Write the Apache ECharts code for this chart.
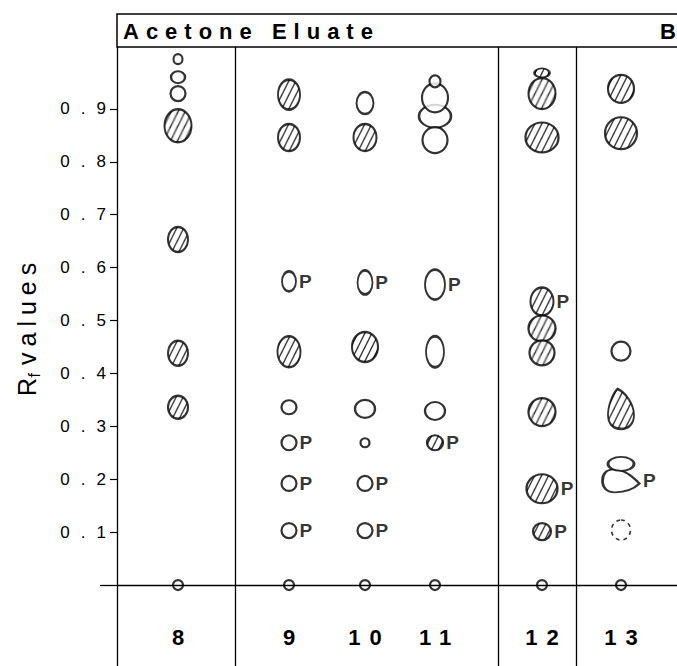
<!DOCTYPE html>
<html><head><meta charset="utf-8">
<script src="https://cdn.jsdelivr.net/npm/echarts@6/dist/echarts.min.js"></script>
<style>html,body{margin:0;padding:0;background:#fff}#chart{width:677px;height:666px}</style>
</head><body><div id="chart"></div>
<script>
// ================= DATA =================
const lanes = ['8', '9', '10', '11', '12', '13'];
const yTicks = [0.1, 0.2, 0.3, 0.4, 0.5, 0.6, 0.7, 0.8, 0.9];
const headerText = 'Acetone Eluate';
const panelLetter = 'B';

// Rf values of the spots per lane; kind: o = open, h = hatched, d = dashed, suffix P = labelled "P"
const lane8Rf   = [0.994, 0.960, 0.929, 0.868, 0.653, 0.438, 0.336, 0];
const lane8Kind = ['o', 'o', 'o', 'h', 'h', 'h', 'h', 'o'];
const lane9Rf   = [0.927, 0.846, 0.574, 0.441, 0.336, 0.269, 0.192, 0.103, 0];
const lane9Kind = ['h', 'h', 'oP', 'h', 'o', 'oP', 'oP', 'oP', 'o'];
const lane10Rf   = [0.911, 0.846, 0.572, 0.450, 0.333, 0.269, 0.192, 0.103, 0];
const lane10Kind = ['o', 'h', 'oP', 'h', 'o', 'o', 'oP', 'oP', 'o'];
const lane11Rf   = [0.886, 0.921, 0.952, 0.841, 0.568, 0.441, 0.329, 0.269, 0];
const lane11Kind = ['o', 'o', 'o', 'o', 'oP', 'o', 'o', 'hP', 'o'];
const lane12Rf   = [0.929, 0.968, 0.846, 0.536, 0.485, 0.439, 0.327, 0.182, 0.101, 0];
const lane12Kind = ['h', 'h', 'h', 'hP', 'h', 'h', 'h', 'hP', 'hP', 'o'];
const lane13Rf   = [0.938, 0.854, 0.442, 0.333, 0.197, 0.229, 0.104, 0];
const lane13Kind = ['h', 'h', 'o', 'h', 'oP', 'o', 'd', 'o'];

// ================= LAYOUT / STYLE =================
const laneX = [61, 172, 248, 318, 425, 504];       // lane centre on the x scale
const dividerX = [118, 381, 459];                  // separators between lane groups
const lane8Size  = [[9,10],[14,12],[15,15],[27,33],[20,25],[20,25],[20,23],[10,10]];
const lane9Size  = [[22,30],[22,27],[14,20],[23,31],[15,14],[15,15],[15,15],[15,15],[10,10]];
const lane10Size = [[17,22],[23,27],[15,24],[26,30],[20,18],[9,9],[15,15],[15,15],[10,10]];
const lane11Size = [[32,23],[26,29],[11,12],[25,26],[20,30],[18,31],[20,18],[16,15],[10,10]];
const lane12Size = [[27,31],[15,9],[33,30],[23,28],[27,26],[25,25],[27,28],[31,29],[18,17],[10,10]];
const lane13Size = [[26,28],[32,32],[19,19],[26,40],[37,23],[26,14],[19,20],[10,10]];
const lane13Shape = ['e','e','e','drop','dropRight','e','e','e'];

const SHAPES = {
  e: 'path://M50,0C77.6,0,100,22.4,100,50C100,77.6,77.6,100,50,100C22.4,100,0,77.6,0,50C0,22.4,22.4,0,50,0Z',
  drop: 'path://M38,0C20,12,2,45,4,68C6,90,26,100,50,100C76,100,98,88,97,64C96,36,64,8,38,0Z',
  dropRight: 'path://M30,0C58,0,80,30,100,62C82,90,60,100,34,100C12,100,0,80,0,50C0,20,10,0,30,0Z'
};
const FONT = '"Liberation Sans", Arial, Helvetica, sans-serif';
const INK = '#000';

// hatch tile: "/" lines, 2x + y = const, period 14 -> ~6.3px apart
const HATCH_W = 7, HATCH_H = 14;
const hatchURL = (function () {
  const c = document.createElement('canvas');
  c.width = HATCH_W; c.height = HATCH_H;
  const ctx = c.getContext('2d');
  ctx.fillStyle = '#fff'; ctx.fillRect(0, 0, HATCH_W, HATCH_H);
  ctx.strokeStyle = '#000'; ctx.lineWidth = 1.4;
  for (let k = -1; k <= 3; k++) {
    ctx.beginPath();
    ctx.moveTo(-HATCH_W, k * 14 + 2 * HATCH_W);
    ctx.lineTo(2 * HATCH_W, k * 14 - 4 * HATCH_W);
    ctx.stroke();
  }
  return c.toDataURL();
})();
// symbols are drawn as a 2x2 unit shape scaled by size/2, so undo that scale on the pattern
function hatchFor(size) {
  return { image: hatchURL, repeat: 'repeat', imageWidth: HATCH_W, imageHeight: HATCH_H,
           scaleX: 2 / size[0], scaleY: 2 / size[1] };
}

const laneRf = [lane8Rf, lane9Rf, lane10Rf, lane11Rf, lane12Rf, lane13Rf];
const laneKind = [lane8Kind, lane9Kind, lane10Kind, lane11Kind, lane12Kind, lane13Kind];
const laneSize = [lane8Size, lane9Size, lane10Size, lane11Size, lane12Size, lane13Size];
const laneShape = [null, null, null, null, null, lane13Shape];

const groups = { o: [], h: [], d: [] };
laneRf.forEach((rfs, li) => {
  rfs.forEach((rf, i) => {
    const kind = laneKind[li][i];
    const shape = laneShape[li] ? laneShape[li][i] : 'e';
    const size = laneSize[li][i];
    const item = { value: [laneX[li], rf], symbol: SHAPES[shape], symbolSize: size };
    if (kind[0] === 'h') item.itemStyle = { color: hatchFor(size) };
    if (kind.indexOf('P') >= 0) item.label = { show: true };
    groups[kind[0]].push(item);
  });
});

const pLabel = {
  show: false, position: 'right', distance: 2, formatter: 'P',
  fontSize: 19, fontWeight: 'bold', color: INK, fontFamily: FONT
};
function spotSeries(name, data, itemStyle, z, extra) {
  return Object.assign({
    name, type: 'scatter', data, z, silent: true, animation: false,
    itemStyle, label: pLabel, emphasis: { disabled: true }
  }, extra || {});
}

const chart = echarts.init(document.getElementById('chart'), null, { renderer: 'svg' });
chart.setOption({
  animation: false,
  backgroundColor: '#fff',
  grid: { left: 117, right: 0, top: 47, bottom: 0, containLabel: false, outerBoundsMode: 'none' },
  xAxis: {
    type: 'value', min: 0, max: 560,
    axisLine: { show: false },
    axisTick: { show: false },
    splitLine: { show: false },
    axisLabel: {
      customValues: laneX,
      formatter: v => lanes[laneX.indexOf(v)],
      margin: -40, padding: [0, 0, 0, 9],
      fontSize: 22, fontWeight: 'bold', color: INK, fontFamily: FONT
    }
  },
  yAxis: [{
    type: 'value', min: -0.153, max: 1.017,
    axisLine: { show: true, lineStyle: { color: INK, width: 1.3 } },
    axisTick: { show: true, customValues: yTicks, length: 7, lineStyle: { color: INK, width: 1.2 } },
    axisLabel: {
      customValues: yTicks, formatter: v => v.toFixed(1),
      margin: 0, fontSize: 17, color: INK, fontFamily: FONT
    },
    splitLine: { show: false }
  }, {
    type: 'value', min: -0.153, max: 1.017, position: 'left',
    axisLine: { show: false },
    axisTick: { show: true, customValues: [0], length: 17, lineStyle: { color: INK, width: 1.3 } },
    axisLabel: { show: false },
    splitLine: { show: false }
  }],
  series: [
    spotSeries('open', groups.o, { color: '#fff', borderColor: INK, borderWidth: 2.2 }, 3, {
      markLine: {
        silent: true, animation: false, symbol: ['none', 'none'], label: { show: false },
        lineStyle: { color: INK, width: 1.3, type: 'solid' },
        data: dividerX.map(v => ({ xAxis: v })).concat([{ yAxis: 0 }])
      }
    }),
    spotSeries('hatched', groups.h, { color: '#fff', borderColor: INK, borderWidth: 2.2 }, 4),
    spotSeries('dashed', groups.d, { color: '#fff', borderColor: INK, borderWidth: 1.6, borderType: [4, 4] }, 3)
  ],
  graphic: [
    { type: 'rect', z: 10, shape: { x: 117, y: 14, width: 620, height: 33 },
      style: { fill: 'none', stroke: INK, lineWidth: 1.5 } },
    { type: 'text', z: 10, x: 123, y: 31,
      style: { text: headerText, fontSize: 22, fontWeight: 'bold', fontFamily: FONT, fill: INK, verticalAlign: 'middle' } },
    { type: 'text', z: 10, x: 660, y: 31,
      style: { text: panelLetter, fontSize: 22, fontWeight: 'bold', fontFamily: FONT, fill: INK, verticalAlign: 'middle' } },
    { type: 'group', x: 27, y: 396, rotation: Math.PI / 2, z: 10, children: [
      { type: 'text', x: 0, y: 0,
        style: { text: 'R', fontSize: 25, fontFamily: FONT, fill: INK, verticalAlign: 'middle', align: 'left' } },
      { type: 'text', x: 18.5, y: 7,
        style: { text: 'f', fontSize: 16, fontFamily: FONT, fill: INK, verticalAlign: 'middle', align: 'left' } },
      { type: 'text', x: 31, y: 0,
        style: { text: 'values', fontSize: 25, fontFamily: FONT, fill: INK, verticalAlign: 'middle', align: 'left' } }
    ] }
  ]
});

function applySpacing() {
  document.querySelectorAll('#chart svg text').forEach(t => {
    const s = t.textContent;
    let ls = 0;
    if (s === headerText) ls = 7;
    else if (/^0\.\d$/.test(s)) ls = 11;
    else if (lanes.indexOf(s) >= 0) ls = 9;
    else if (s.trim() === 'values') ls = 6;
    if (ls) t.style.letterSpacing = ls + 'px';
  });
}
chart.on('finished', applySpacing);
setTimeout(applySpacing, 50);
</script>
</body></html>
